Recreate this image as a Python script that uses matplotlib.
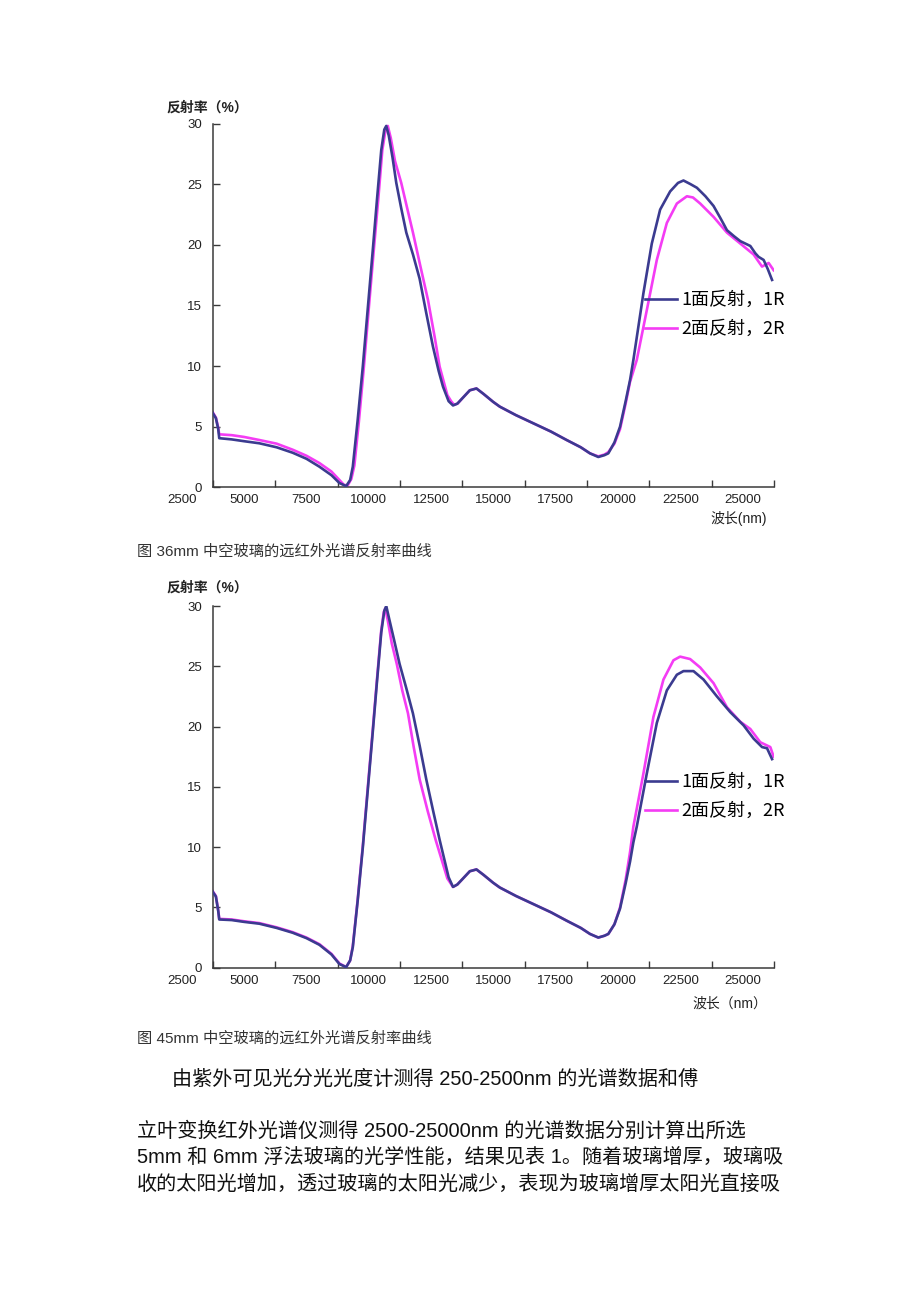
import matplotlib
matplotlib.use('Agg')
import matplotlib.pyplot as plt

plt.rcParams['font.family'] = ['Liberation Sans', 'Noto Sans CJK SC']

# ---------------- data ----------------
x_label_values = [2500, 5000, 7500, 10000, 12500, 15000, 17500, 20000, 22500, 25000]
x_tick_marks = [3750, 6250, 8750, 11250, 13750, 16250, 18750, 21250, 23750, 26250]
y_ticks = [0, 5, 10, 15, 20, 25, 30]
series_names = ['1面反射，1R', '2面反射，2R']

# Chart 1 (6mm)
c1_1R_x = [3706, 3866, 3960, 4000, 4500, 5000, 5607, 6300, 6945, 7500, 8017, 8500, 8821, 9091,
           9250, 9357, 9550, 9758, 9960, 10160, 10330, 10498, 10620, 10699, 10800, 10950, 11101,
           11300, 11503, 11770, 12037, 12300, 12572, 12800, 12974, 13200, 13376, 13550, 13778, 14050,
           14316, 14600, 14983, 15253, 15900, 16595, 17300, 17933, 18500, 18869, 19203, 19450, 19605,
           19850, 20075, 20300, 20477, 20610, 21012, 21349, 21683, 22085, 22400, 22619, 22900, 23158,
           23500, 23825, 24100, 24364, 24650, 24898, 25300, 25500, 25633, 25834, 26000, 26172]
c1_1R_y = [6.24, 5.7, 4.8, 4.05, 3.95, 3.8, 3.63, 3.3, 2.85, 2.35, 1.7, 1.0, 0.35, 0.1,
           0.6, 1.7, 5.5, 9.95, 14.8, 19.6, 23.8, 27.8, 29.5, 29.8, 29.0, 27.2, 25.1,
           23.0, 21.0, 19.2, 17.2, 14.4, 11.6, 9.6, 8.3, 7.1, 6.75, 6.9, 7.4, 8.0,
           8.15, 7.7, 7.05, 6.65, 5.95, 5.28, 4.6, 3.9, 3.3, 2.8, 2.5, 2.65, 2.8,
           3.7, 5.0, 7.1, 8.85, 10.5, 16.0, 20.1, 22.9, 24.4, 25.1, 25.3, 25.0, 24.7,
           24.0, 23.2, 22.2, 21.2, 20.7, 20.3, 19.9, 19.3, 19.0, 18.75, 18.0, 17.1]
c1_2R_x = [3706, 3866, 3960, 4000, 4500, 5000, 5607, 6300, 6945, 7500, 8017, 8500, 8821, 9000,
           9150, 9300, 9420, 9600, 9800, 10000, 10200, 10380, 10540, 10680, 10760, 10880, 11050,
           11300, 11540, 11770, 12060, 12372, 12640, 12840, 13150, 13300, 13420, 13560, 13778, 14050,
           14316, 14600, 14983, 15253, 15900, 16595, 17300, 17933, 18500, 18869, 19203, 19450, 19605,
           19850, 20075, 20300, 20477, 20746, 21148, 21550, 21952, 22354, 22756, 23000, 23290, 23825,
           24364, 24898, 25432, 25770, 26035, 26236]
c1_2R_y = [6.3, 5.75, 4.9, 4.37, 4.3, 4.15, 3.9, 3.6, 3.1, 2.6, 2.0, 1.3, 0.6, 0.2,
           0.15, 0.7, 1.8, 5.4, 9.9, 14.8, 19.6, 23.8, 27.8, 29.6, 29.8, 28.8, 26.9,
           25.1, 23.0, 21.0, 18.3, 15.45, 12.4, 9.95, 7.6, 7.1, 6.8, 6.9, 7.4, 8.0,
           8.15, 7.7, 7.05, 6.65, 5.95, 5.28, 4.6, 3.9, 3.3, 2.8, 2.55, 2.7, 2.9,
           3.6, 4.8, 6.9, 8.7, 10.5, 14.6, 18.75, 21.8, 23.4, 24.0, 23.9, 23.4, 22.3,
           21.0, 20.1, 19.2, 18.2, 18.5, 17.9]

# Chart 2 (5mm)
c2_1R_x = [3706, 3866, 3960, 4000, 4500, 5000, 5607, 6300, 6945, 7500, 8017, 8500, 8821, 9091,
           9250, 9357, 9550, 9758, 9960, 10160, 10330, 10498, 10620, 10699, 10820, 11000, 11233,
           11500, 11768, 12040, 12306, 12580, 12840, 13200, 13376, 13550, 13778, 14050, 14316, 14600,
           14983, 15253, 15900, 16595, 17300, 17933, 18500, 18869, 19203, 19450, 19605, 19850,
           20075, 20300, 20477, 20610, 20746, 21148, 21550, 21952, 22354, 22619, 23021, 23423,
           23961, 24495, 25030, 25432, 25770, 25971, 26172]
c2_1R_y = [6.4, 5.9, 4.7, 4.0, 3.95, 3.8, 3.65, 3.3, 2.9, 2.45, 1.9, 1.1, 0.3, 0.05,
           0.6, 1.7, 5.5, 9.95, 14.8, 19.6, 23.8, 27.8, 29.6, 30.0, 28.9, 27.3, 25.2,
           23.2, 21.1, 18.4, 15.6, 13.0, 10.6, 7.5, 6.7, 6.9, 7.4, 8.0, 8.15, 7.7,
           7.05, 6.65, 5.95, 5.28, 4.6, 3.9, 3.3, 2.8, 2.5, 2.65, 2.8, 3.6,
           4.9, 7.0, 8.8, 10.4, 11.7, 16.1, 20.3, 23.0, 24.3, 24.6, 24.6, 23.9,
           22.5, 21.2, 20.1, 19.0, 18.3, 18.2, 17.3]
c2_2R_x = [3706, 3866, 3960, 4000, 4500, 5000, 5607, 6300, 6945, 7500, 8017, 8500, 8821, 9091,
           9250, 9357, 9550, 9758, 9960, 10160, 10330, 10498, 10600, 10660, 10760, 10920, 11120,
           11340, 11570, 11800, 12040, 12360, 12680, 13150, 13376, 13550, 13778, 14050, 14316, 14600,
           14983, 15253, 15900, 16595, 17300, 17933, 18500, 18869, 19203, 19450, 19605, 19850,
           20075, 20300, 20477, 20610, 21012, 21414, 21816, 22218, 22485, 22885, 23290, 23825,
           24364, 24898, 25300, 25700, 26102, 26236]
c2_2R_y = [6.45, 5.95, 4.75, 4.05, 4.0, 3.85, 3.7, 3.35, 2.95, 2.5, 1.95, 1.15, 0.35, 0.05,
           0.6, 1.8, 5.6, 10.1, 15.0, 19.8, 24.0, 28.0, 29.5, 29.8, 28.8, 26.9, 25.2,
           23.0, 21.1, 18.3, 15.6, 13.0, 10.6, 7.4, 6.7, 6.9, 7.4, 8.0, 8.15, 7.7,
           7.05, 6.65, 5.95, 5.28, 4.6, 3.9, 3.3, 2.8, 2.5, 2.65, 2.8, 3.6,
           5.0, 7.3, 9.6, 11.7, 16.1, 20.8, 23.9, 25.5, 25.8, 25.6, 24.9, 23.6,
           21.6, 20.4, 19.8, 18.7, 18.3, 17.5]

captions = ['图 36mm 中空玻璃的远红外光谱反射率曲线', '图 45mm 中空玻璃的远红外光谱反射率曲线']
xlabels = ['波长(nm)', '波长（nm）']
ylabel = '反射率（%）'
body_lines = ['由紫外可见光分光光度计测得 250-2500nm 的光谱数据和傅',
              '立叶变换红外光谱仪测得 2500-25000nm 的光谱数据分别计算出所选',
              '5mm 和 6mm 浮法玻璃的光学性能，结果见表 1。随着玻璃增厚，玻璃吸',
              '收的太阳光增加，透过玻璃的太阳光减少，表现为玻璃增厚太阳光直接吸']

# ---------------- layout ----------------
W, H = 920, 1301
fig = plt.figure(figsize=(9.2, 13.01), dpi=100)
fig.patch.set_facecolor('white')


def fx(px):
    return px / W


def fy(py):
    return 1 - py / H


BLUE = '#3b3b90'
MAGENTA = '#f43cf4'
AXC = '#3a3a3a'
TXT = '#222222'


def make_chart(bottom_px, top_px, s1x, s1y, s2x, s2y, xlabel, xlab_y, ylab_y, leg_top):
    left, right = 213, 774
    ax = fig.add_axes([fx(left), fy(bottom_px), fx(right) - fx(left), fy(top_px) - fy(bottom_px)])
    ax.plot(s1x, s1y, color=BLUE, lw=1.9, label=series_names[0], solid_joinstyle='round', zorder=3)
    ax.plot(s2x, s2y, color=MAGENTA, lw=1.9, label=series_names[1], solid_joinstyle='round', zorder=2)
    ax.set_xlim(x_tick_marks[0], x_tick_marks[-1])
    ax.set_ylim(0, 30)
    for s in ['top', 'right']:
        ax.spines[s].set_visible(False)
    for s in ['left', 'bottom']:
        ax.spines[s].set_color(AXC)
        ax.spines[s].set_linewidth(1.1)
    ax.set_xticks(x_tick_marks)
    ax.set_xticklabels([])
    ax.set_yticks(y_ticks)
    ax.set_yticklabels([str(v) for v in y_ticks])
    ax.tick_params(axis='both', direction='in', length=5, width=1.0, color=AXC)
    ax.tick_params(axis='y', labelsize=9.5, labelcolor=TXT, pad=8)
    for v in x_label_values:
        ax.annotate(str(v), xy=(v, 0), xycoords=('data', 'axes fraction'),
                    xytext=(0, -13), textcoords='offset pixels', ha='center', va='center',
                    fontsize=9.5, color=TXT, annotation_clip=False)
    fig.text(fx(767), fy(xlab_y), xlabel, ha='right', va='center', fontsize=10, color=TXT)
    fig.text(fx(166), fy(ylab_y), ylabel, ha='left', va='center', fontsize=10, color=TXT,
             fontweight='bold')
    ax.legend(loc='upper left', bbox_to_anchor=(fx(645), fy(leg_top)), bbox_transform=fig.transFigure,
              frameon=False, borderpad=0, borderaxespad=0, handlelength=1.8, handletextpad=0.2,
              labelspacing=0.6, prop={'family': ['Noto Sans CJK SC'], 'size': 13})
    return ax


make_chart(487.3, 123.5, c1_1R_x, c1_1R_y, c1_2R_x, c1_2R_y, xlabels[0], 519, 108, 291)
make_chart(967.7, 606.0, c2_1R_x, c2_1R_y, c2_2R_x, c2_2R_y, xlabels[1], 1004, 588, 773)

fig.text(fx(137), fy(551), captions[0], ha='left', va='center', fontsize=11, color='#333333')
fig.text(fx(137), fy(1038), captions[1], ha='left', va='center', fontsize=11, color='#333333')

body_pos = [(172, 1079), (137, 1131), (137, 1157), (137, 1184)]
for (px, py), line in zip(body_pos, body_lines):
    fig.text(fx(px), fy(py), line, ha='left', va='center', fontsize=14.5, color='#111111')

fig.savefig('out.png', dpi=100, facecolor='white')
